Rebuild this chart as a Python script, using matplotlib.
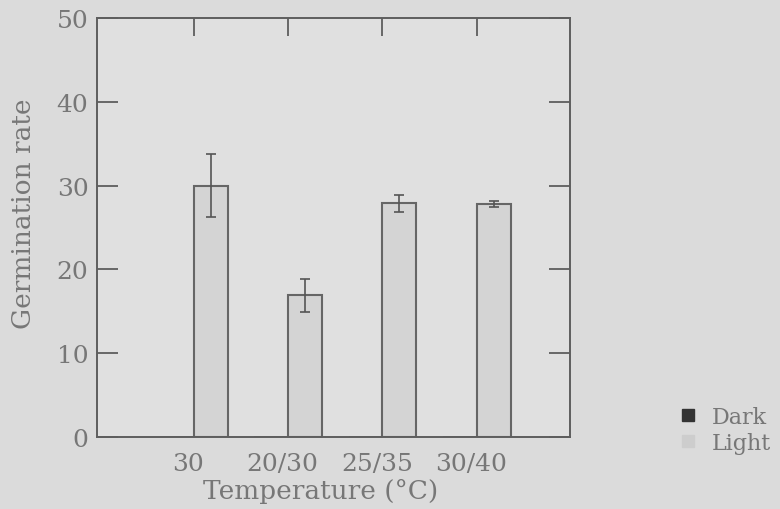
import numpy as np
import matplotlib.pyplot as plt
import matplotlib.transforms as mtransforms
from matplotlib.lines import Line2D

# Germination rate by temperature regime
temperatures = ['30', '20/30', '25/35', '30/40']
dark_rate = [0, 0, 0, 0]
light_rate = [30.0, 16.9, 27.9, 27.8]
light_err = [3.8, 2.0, 1.0, 0.4]

text_col = '#777777'
line_col = '#5e5e5e'

plt.rcParams['font.family'] = ['DejaVu Serif']

fig = plt.figure(figsize=(7.8, 5.1), dpi=100, facecolor='#dbdbdb')
ax = fig.add_axes([0.124, 0.141, 0.607, 0.822], facecolor='#e0e0e0')

x = np.arange(len(temperatures))
width = 0.36
ax.bar(x - width / 2, dark_rate, width, color='#333333', edgecolor=line_col, linewidth=1.4)
ax.bar(x + width / 2, light_rate, width, color='#d4d4d4', edgecolor='#666666', linewidth=1.5,
       yerr=light_err, error_kw=dict(ecolor='#555555', elinewidth=1.2, capsize=3.5, capthick=1.2))

ax.set_xlim(-1.03, 3.99)
ax.set_ylim(0, 50)
ax.set_xticks(x)
ax.set_xticklabels(temperatures)
ax.set_yticks(range(0, 51, 10))

ax.tick_params(axis='y', direction='in', length=15, width=1.3, color=line_col,
               labelcolor=text_col, labelsize=18, right=True, pad=6)
ax.tick_params(axis='x', direction='in', length=13, width=1.3, color=line_col,
               labelcolor=text_col, labelsize=18, top=True, bottom=False, pad=11)
# nudge the category labels a little to the left
shift = mtransforms.ScaledTranslation(-4 / 72, 0, fig.dpi_scale_trans)
for lbl in ax.get_xticklabels():
    lbl.set_transform(lbl.get_transform() + shift)

for spine in ax.spines.values():
    spine.set_color(line_col)
    spine.set_linewidth(1.4)

ax.set_xlabel('Temperature (°C)', fontsize=19, color=text_col)
ax.set_ylabel('Germination rate', fontsize=19, color=text_col)
ax.xaxis.set_label_coords(0.472, -0.097)
ax.yaxis.set_label_coords(-0.128, 0.535)

handles = [Line2D([], [], linestyle='none', marker='s', markersize=8, color='#333333'),
           Line2D([], [], linestyle='none', marker='s', markersize=8, color='#cdcdcd')]
fig.legend(handles, ['Dark', 'Light'], loc='lower left', bbox_to_anchor=(0.873, 0.108),
           frameon=False, fontsize=16, labelcolor=text_col, handlelength=0.6,
           handletextpad=0.8, labelspacing=0.17, borderpad=0, borderaxespad=0)

fig.savefig('out.png', dpi=100, facecolor=fig.get_facecolor())
